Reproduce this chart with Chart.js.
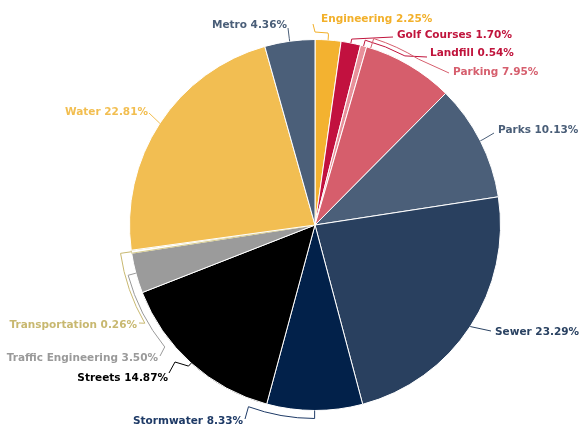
<!DOCTYPE html>
<html>
<head>
<meta charset="utf-8">
<script src="https://cdn.jsdelivr.net/npm/chart.js@4/dist/chart.umd.min.js"></script>
<style>
  html, body { margin: 0; padding: 0; background: #ffffff; }
  #c { display: block; }
</style>
</head>
<body>
<canvas id="c" width="579" height="431"></canvas>
<script>
// ---- data ----
const categories = ['Engineering', 'Golf Courses', 'Landfill', 'Parking', 'Parks', 'Sewer',
  'Stormwater', 'Streets', 'Traffic Engineering', 'Transportation', 'Water', 'Metro'];
const shares = [2.25, 1.70, 0.54, 7.95, 10.13, 23.29, 8.33, 14.87, 3.50, 0.26, 22.81, 4.36];

// ---- styles ----
const sliceColors = ['#F3B230', '#C2113F', '#E8909A', '#D65E6C', '#4B5F79', '#29405F',
  '#02214A', '#000000', '#9B9B9B', '#FFFFFF', '#F2BE52', '#4B5F79'];
const sliceBorders = ['#fff', '#fff', '#fff', '#fff', '#fff', '#fff',
  '#fff', '#fff', '#fff', '#D4C889', '#fff', '#fff'];
const labelColors = ['#F2B02A', '#C0143C', '#C0143C', '#D65F6E', '#4A5E78', '#2A4262',
  '#1E3A66', '#000000', '#9A9A9A', '#C8B870', '#F2BE50', '#4A5E78'];

// label layout: text position + leader path (polar pts relative to slice mid, or pixel pts)
const labelLayout = [
  { x: 321, y: 19, align: 'left', path: [{da:0,dr:0},{da:0,dr:5},{x:328,y:33},{x:315,y:32},{x:313,y:24}] },
  { x: 397, y: 35, align: 'left', path: [{da:0,dr:0},{da:0,dr:4},{x:393,y:37}] },
  { x: 430, y: 53, align: 'left', path: [{da:0,dr:0},{da:0,dr:6},{da:12.8,dr:6},{x:427,y:57}] },
  { x: 453, y: 72, align: 'left', path: [{da:-13,dr:0},{da:-13,dr:10},{da:1.5,dr:10},{x:449,y:73}] },
  { x: 498, y: 130, align: 'left', path: [{da:0,dr:0},{da:0,dr:3},{x:494,y:133}] },
  { x: 495, y: 332, align: 'left', path: [{da:0,dr:0},{x:491,y:331}] },
  { x: 133, y: 421, align: 'left', path: [{da:0,dr:0},{da:0,dr:8},{da:20,dr:8},{x:245,y:419}] },
  { x: 168, y: 378, align: 'right', path: [{da:0,dr:0},{da:0,dr:4},{x:175,y:362},{x:169,y:373}] },
  { x: 158, y: 358, align: 'right', path: [{da:0,dr:0},{da:0,dr:8},{da:-24,dr:8},{x:160,y:356}] },
  { x: 137, y: 325, align: 'right', path: [{da:0,dr:0},{da:0,dr:11},{da:-21.7,dr:11},{x:139,y:323}] },
  { x: 148, y: 112, align: 'right', path: [{da:0,dr:0},{x:149,y:113}] },
  { x: 287, y: 25, align: 'right', path: [{da:0,dr:0},{da:0,dr:3},{x:288,y:28}] }
];

const labelPlugin = {
  id: 'pieLabels',
  afterDatasetsDraw(chart) {
    const ctx = chart.ctx;
    const meta = chart.getDatasetMeta(0);
    const total = shares.reduce((a, b) => a + b, 0);
    ctx.save();
    meta.data.forEach((arc, i) => {
      const p = arc.getProps(['x', 'y', 'startAngle', 'endAngle', 'outerRadius'], true);
      const mid = (p.startAngle + p.endAngle) / 2;
      const L = labelLayout[i];
      const col = labelColors[i];
      // leader
      ctx.strokeStyle = col;
      ctx.lineWidth = 1;
      ctx.beginPath();
      let prev = null;
      L.path.forEach((pt, k) => {
        if (pt.da !== undefined) {
          const a = mid + pt.da * Math.PI / 180;
          const r = p.outerRadius + pt.dr;
          const px = p.x + r * Math.cos(a), py = p.y + r * Math.sin(a);
          if (k === 0) ctx.moveTo(px, py);
          else if (prev && prev.da !== undefined && prev.dr === pt.dr && prev.da !== pt.da) {
            const a0 = mid + prev.da * Math.PI / 180;
            ctx.arc(p.x, p.y, r, a0, a, a < a0);
          } else ctx.lineTo(px, py);
        } else {
          if (k === 0) ctx.moveTo(pt.x, pt.y); else ctx.lineTo(pt.x, pt.y);
        }
        prev = pt;
      });
      ctx.stroke();
      // text
      const pct = (shares[i] / total * 100);
      const txt = categories[i] + ' ' + shares[i].toFixed(2) + '%';
      ctx.font = 'bold 10.5px "DejaVu Sans"';
      ctx.fillStyle = col;
      ctx.textAlign = L.align;
      ctx.textBaseline = 'middle';
      ctx.fillText(txt, L.x, L.y);
    });
    ctx.restore();
  }
};

new Chart(document.getElementById('c'), {
  type: 'pie',
  data: {
    labels: categories,
    datasets: [{
      data: shares,
      backgroundColor: sliceColors,
      borderColor: sliceBorders,
      borderWidth: 1
    }]
  },
  options: {
    responsive: false,
    animation: false,
    layout: { padding: { left: 129, right: 78, top: 39, bottom: 20 } },
    plugins: { legend: { display: false }, tooltip: { enabled: false } }
  },
  plugins: [labelPlugin]
});
</script>
</body>
</html>
